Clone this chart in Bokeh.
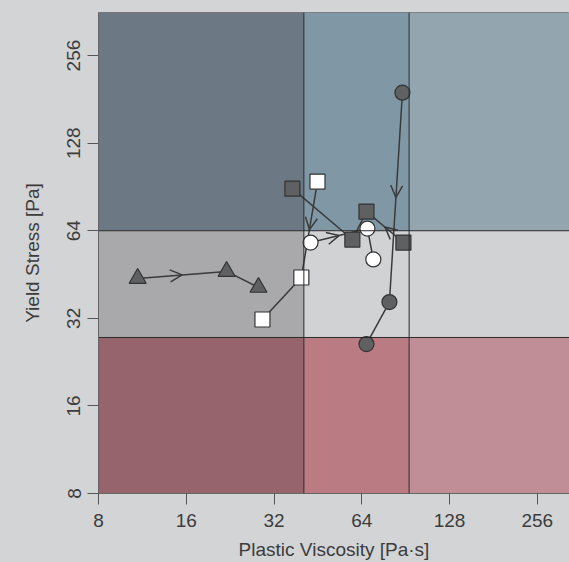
import numpy as np
from bokeh.plotting import figure
from bokeh.models import Span, Arrow, OpenHead, FixedTicker
from bokeh.embed import file_html
from bokeh.resources import INLINE

# ---------------- data ----------------
ticks = [8, 16, 32, 64, 128, 256]
tick_labels = ["8", "16", "32", "64", "128", "256"]

x_bounds = [8, 40.5, 93, 330]    # plastic viscosity class limits
y_bounds = [8, 27.5, 64, 360]    # yield stress class limits

tri_x = [10.9, 22.0, 28.3]
tri_y = [43.9, 46.4, 40.9]

wsq_x = [45.1, 39.7, 29.2]
wsq_y = [94.4, 44.2, 31.7]

dsq_x = [88.9, 66.4, 59.4, 37.0]
dsq_y = [58.3, 74.5, 59.7, 89.3]

wci_x = [42.7, 66.9, 70.1]
wci_y = [58.3, 65.1, 51.0]

dci_x = [88.2, 79.6, 66.4]
dci_y = [190.8, 36.4, 26.1]

# ---------------- styles ----------------
BG = "#d3d4d6"
region_colors = [  # rows bottom->top, columns left->right
    ["#96646c", "#bb7b83", "#c08e96"],
    ["#a9a9ab", "#d1d2d4", "#d1d2d4"],
    ["#6c7883", "#8098a6", "#93a6b0"],
]
LINE = "#3a3a3a"
DARK = "#5f6062"
FONT = "Liberation Sans"

p = figure(width=569, height=562, x_axis_type="log", y_axis_type="log",
           x_range=(x_bounds[0], x_bounds[-1]), y_range=(y_bounds[0], y_bounds[-1]),
           output_backend="svg", toolbar_location=None,
           min_border_left=98, min_border_right=0, min_border_top=12, min_border_bottom=69,
           background_fill_color=BG, border_fill_color=BG)
p.outline_line_color = "#777777"
p.grid.visible = False

# background regions
for r in range(3):
    for c in range(3):
        p.quad(left=x_bounds[c], right=x_bounds[c + 1],
               bottom=y_bounds[r], top=y_bounds[r + 1],
               fill_color=region_colors[r][c], line_color=None)

for xb in x_bounds[1:-1]:
    p.add_layout(Span(location=xb, dimension="height", line_color="#2a2a2a", line_width=1))
for yb in y_bounds[1:-1]:
    p.add_layout(Span(location=yb, dimension="width", line_color="#2a2a2a", line_width=1))

series = [
    (tri_x, tri_y, "triangle", DARK, 17),
    (wsq_x, wsq_y, "square", "white", 15),
    (dsq_x, dsq_y, "square", DARK, 15),
    (wci_x, wci_y, "circle", "white", 15),
    (dci_x, dci_y, "circle", DARK, 15),
]

for xs, ys, _, _, _ in series:
    p.line(xs, ys, line_color=LINE, line_width=1.5)
    xm = float(np.sqrt(xs[0] * xs[1]))
    ym = float(np.sqrt(ys[0] * ys[1]))
    p.add_layout(Arrow(x_start=xs[0], y_start=ys[0], x_end=xm, y_end=ym,
                       line_alpha=0,
                       end=OpenHead(size=12, line_color=LINE, line_width=1.5)))

for xs, ys, m, fc, sz in series:
    p.scatter(xs, ys, marker=m, size=sz, fill_color=fc, line_color="#333333", line_width=1.2)

# axes
for ax in (p.xaxis[0], p.yaxis[0]):
    ax.ticker = FixedTicker(ticks=ticks)
    ax.major_label_overrides = {t: l for t, l in zip(ticks, tick_labels)}
    ax.minor_tick_line_color = None
    ax.major_tick_in = 0
    ax.major_tick_out = 11
    ax.major_tick_line_color = "#555555"
    ax.axis_line_color = "#666666"
    ax.major_label_text_font = FONT
    ax.major_label_text_font_size = "19px"
    ax.major_label_text_color = "#3c3c3c"
    ax.axis_label_text_font = FONT
    ax.axis_label_text_font_size = "19px"
    ax.axis_label_text_font_style = "normal"
    ax.axis_label_text_color = "#3c3c3c"

p.xaxis.axis_label = "Plastic Viscosity [Pa·s]"
p.yaxis.axis_label = "Yield Stress [Pa]"
p.yaxis.major_label_orientation = "vertical"
p.xaxis.major_label_standoff = 9
p.yaxis.major_label_standoff = 7
p.xaxis.axis_label_standoff = 9
p.yaxis.axis_label_standoff = 22

tmpl = "{% block preamble %}<style>body{background:" + BG + ";}</style>{% endblock %}"
open("out.html", "w").write(file_html(p, INLINE, template=tmpl))
